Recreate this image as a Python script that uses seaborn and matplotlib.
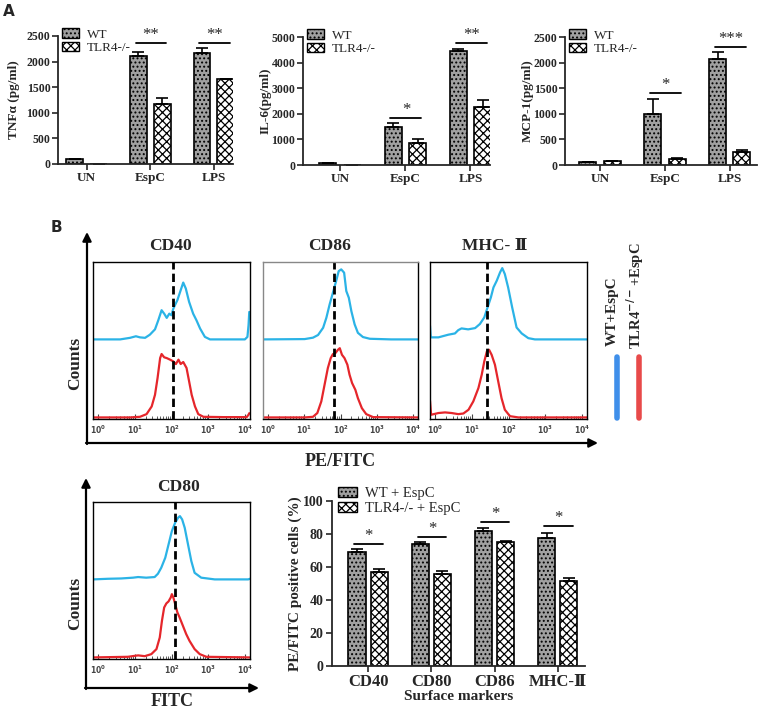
"""
EspC cytokines / surface markers figure, redrawn with seaborn
"""
import numpy as np
import pandas as pd
import matplotlib
matplotlib.use("Agg")
import matplotlib.pyplot as plt
from matplotlib.patches import Patch
import seaborn as sns

# ---------------- panel A data (pg/ml) ----------------
conditions = ["UN", "EspC", "LPS"]
genotypes = ["WT", "TLR4-/-"]
sig_groups = [1, 2]  # EspC, LPS

tnf_wt = [92, 2110, 2170]
tnf_wt_err = [12, 85, 90]
tnf_ko = [0, 1170, 1655]
tnf_ko_err = [0, 125, 12]
tnf_sig_y = [2365, 2370]
tnf_sig = ["**", "**"]

il6_wt = [60, 1490, 4440]
il6_wt_err = [15, 155, 105]
il6_ko = [0, 870, 2270]
il6_ko_err = [0, 145, 260]
il6_sig_y = [1840, 4770]
il6_sig = ["*", "**"]

mcp_wt = [53, 995, 2065]
mcp_wt_err = [10, 295, 140]
mcp_ko = [70, 120, 262]
mcp_ko_err = [10, 15, 40]
mcp_sig_y = [1405, 2305]
mcp_sig = ["*", "***"]

# ---------------- panel B bar data (%) ----------------
markers = ["CD40", "CD80", "CD86", "MHC-\u2161"]
pos_wt = [69, 74, 81.8, 77.6]
pos_wt_err = [2, 1.2, 1.6, 2.8]
pos_ko = [57, 55.8, 75, 51.5]
pos_ko_err = [2, 1.8, 0.8, 1.8]
pos_sig_y = [74, 78, 87, 85]

# ---------------- flow histograms (x = log10 intensity, y = relative count) ----------------
cd40_wt_x = [-0.14, 0.60, 0.87, 1.03, 1.14, 1.28, 1.41, 1.55, 1.64, 1.73, 1.80, 1.87, 1.94, 2.00, 2.05,
             2.16, 2.25, 2.32, 2.39, 2.48, 2.59, 2.68, 2.78, 2.91, 3.05, 3.59, 4.00, 4.07, 4.10, 4.12]
cd40_wt_y = [0, 0, 0.01, 0.02, 0.013, 0.01, 0.03, 0.064, 0.122, 0.186, 0.164, 0.137, 0.164, 0.154, 0.196,
             0.25, 0.313, 0.362, 0.324, 0.239, 0.164, 0.122, 0.069, 0.016, 0, 0, 0, 0.016, 0.09, 0.175]
cd40_ko_x = [-0.14, 0.87, 1.14, 1.32, 1.46, 1.55, 1.62, 1.69, 1.73, 1.80, 1.87, 1.96, 2.05, 2.12, 2.19,
             2.25, 2.32, 2.41, 2.48, 2.55, 2.64, 2.73, 2.87, 3.41, 4.05, 4.10, 4.12]
cd40_ko_y = [0, 0, 0.004, 0.021, 0.07, 0.144, 0.251, 0.378, 0.404, 0.383, 0.378, 0.368, 0.357, 0.34, 0.368,
             0.34, 0.353, 0.315, 0.23, 0.144, 0.07, 0.021, 0.004, 0.002, 0.002, 0.017, 0.027]

cd86_wt_x = [-0.14, 1.01, 1.24, 1.38, 1.52, 1.61, 1.70, 1.79, 1.88, 1.95, 2.02, 2.10, 2.16, 2.23, 2.30,
             2.39, 2.48, 2.62, 2.81, 3.40, 4.14]
cd86_wt_y = [0, 0.002, 0.011, 0.028, 0.074, 0.138, 0.223, 0.297, 0.372, 0.435, 0.446, 0.425, 0.308, 0.265,
             0.18, 0.096, 0.042, 0.015, 0.004, 0, 0]
cd86_ko_x = [-0.14, 1.01, 1.24, 1.36, 1.47, 1.56, 1.65, 1.73, 1.79, 1.86, 1.93, 1.98, 2.04, 2.11, 2.19,
             2.25, 2.32, 2.41, 2.48, 2.59, 2.71, 2.90, 4.14]
cd86_ko_y = [0, 0, 0.004, 0.028, 0.102, 0.208, 0.314, 0.378, 0.403, 0.41, 0.431, 0.441, 0.399, 0.378, 0.336,
             0.272, 0.219, 0.176, 0.123, 0.059, 0.021, 0.002, 0]

mhc_wt_x = [-0.14, -0.12, 0.09, 0.36, 0.54, 0.63, 0.72, 0.90, 1.09, 1.22, 1.34, 1.43, 1.52, 1.59, 1.68,
            1.77, 1.83, 1.90, 1.99, 2.10, 2.22, 2.36, 2.54, 2.72, 4.14]
mhc_wt_y = [0.087, 0.013, 0.013, 0.03, 0.038, 0.059, 0.07, 0.064, 0.072, 0.098, 0.14, 0.204, 0.268, 0.331,
            0.374, 0.427, 0.454, 0.416, 0.331, 0.204, 0.076, 0.038, 0.008, 0, 0]
mhc_ko_x = [-0.14, -0.11, 0.09, 0.27, 0.45, 0.63, 0.77, 0.91, 1.04, 1.18, 1.27, 1.34, 1.41, 1.47, 1.54,
            1.63, 1.72, 1.81, 1.90, 2.04, 2.27, 4.14]
mhc_ko_y = [0.106, 0.017, 0.028, 0.032, 0.028, 0.021, 0.025, 0.049, 0.102, 0.187, 0.272, 0.357, 0.42, 0.431,
            0.399, 0.336, 0.229, 0.123, 0.049, 0.008, 0, 0]

cd80_wt_x = [-0.14, 0.27, 0.63, 0.95, 1.09, 1.31, 1.54, 1.63, 1.72, 1.83, 1.92, 2.01, 2.10, 2.18, 2.23,
             2.29, 2.36, 2.45, 2.54, 2.63, 2.81, 3.18, 4.09, 4.14]
cd80_wt_y = [0, 0.004, 0.006, 0.011, 0.015, 0.011, 0.015, 0.036, 0.074, 0.138, 0.223, 0.308, 0.361, 0.393,
             0.403, 0.382, 0.329, 0.223, 0.117, 0.042, 0.011, 0, 0, 0.004]
cd80_ko_x = [-0.14, 0.81, 1.09, 1.27, 1.45, 1.59, 1.68, 1.74, 1.80, 1.86, 1.92, 1.98, 2.01, 2.05, 2.10,
             2.16, 2.22, 2.31, 2.40, 2.49, 2.63, 2.77, 2.95, 4.14]
cd80_ko_y = [0, 0.004, 0.013, 0.008, 0.021, 0.053, 0.127, 0.234, 0.318, 0.344, 0.357, 0.382, 0.403, 0.382,
             0.34, 0.287, 0.255, 0.202, 0.149, 0.106, 0.053, 0.021, 0.004, 0]

gate = {"CD40": 2.05, "CD86": 1.81, "MHC": 1.42, "CD80": 2.10}

# ---------------- style ----------------
sns.set_style("ticks")
plt.rcParams["font.family"] = ["Liberation Serif", "DejaVu Serif", "DejaVu Sans"]
plt.rcParams["font.weight"] = "bold"
plt.rcParams["axes.labelweight"] = "bold"
plt.rcParams["hatch.linewidth"] = 0.9

WT_FACE, KO_FACE = "#a0a0a0", "white"
WT_HATCH, KO_HATCH = "....", "xxxx"
BLUE, RED = "#2bb3e6", "#e5262b"
W, H = 767, 712

fig = plt.figure(figsize=(W / 100, H / 100), dpi=100)


def px_axes(x0, y0, x1, y1, **kw):
    return fig.add_axes([x0 / W, 1 - y1 / H, (x1 - x0) / W, (y1 - y0) / H], **kw)


# overlay in pixel coordinates for arrows and free texts
ov = px_axes(0, 0, W, H)
ov.set_xlim(0, W)
ov.set_ylim(H, 0)
ov.axis("off")


def legend_patches():
    return [Patch(facecolor=WT_FACE, hatch=WT_HATCH, edgecolor="black"),
            Patch(facecolor=KO_FACE, hatch=KO_HATCH, edgecolor="black")]


def grouped_bars(ax, cats, wt, wt_err, ko, ko_err, labels, width, gap):
    df = pd.DataFrame({"cat": cats * 2,
                       "grp": [labels[0]] * len(cats) + [labels[1]] * len(cats),
                       "val": wt + ko})
    sns.barplot(data=df, x="cat", y="val", hue="grp", ax=ax, width=width, gap=gap,
                palette={labels[0]: WT_FACE, labels[1]: KO_FACE}, saturation=1,
                edgecolor="black", linewidth=1.2, errorbar=None, legend=False)
    for cont, hatch, errs in zip(ax.containers, [WT_HATCH, KO_HATCH], [wt_err, ko_err]):
        for p in cont:
            p.set_hatch(hatch)
        xs = [p.get_x() + p.get_width() / 2 for p in cont]
        hs = [p.get_height() for p in cont]
        ax.errorbar(xs, hs, yerr=[np.zeros(len(errs)), errs], fmt="none", ecolor="black",
                    elinewidth=1.2, capsize=4, capthick=1.2, zorder=1)
    ax.set_xlabel("")
    for s in ["top", "right"]:
        ax.spines[s].set_visible(False)
    for s in ["left", "bottom"]:
        ax.spines[s].set_linewidth(1.3)
    ax.tick_params(width=1.2, length=4, pad=2)


def sig_marks(ax, idx, ys, stars, size=12):
    for i, y, s in zip(idx, ys, stars):
        a, b = ax.containers[0][i], ax.containers[1][i]
        x0 = a.get_x() + a.get_width() / 2
        x1 = b.get_x() + b.get_width() / 2
        ax.plot([x0 - 0.04, x1 + 0.06], [y, y], color="black", lw=1.3, clip_on=False)
        ax.text((x0 + x1) / 2 + 0.01, y, s, ha="center", va="bottom", fontsize=size,
                fontweight="normal", clip_on=False)


# ---------------- panel A ----------------
panelA = [
    ((58, 36, 233, 164), tnf_wt, tnf_wt_err, tnf_ko, tnf_ko_err, tnf_sig_y, tnf_sig,
     "TNF\u03b1 (pg/ml)", 2500, 500, (-0.45, 2.3), -0.215),
    ((303, 37, 490, 165), il6_wt, il6_wt_err, il6_ko, il6_ko_err, il6_sig_y, il6_sig,
     "IL-6(pg/ml)", 5000, 1000, (-0.57, 2.3), -0.17),
    ((565, 37, 757, 165), mcp_wt, mcp_wt_err, mcp_ko, mcp_ko_err, mcp_sig_y, mcp_sig,
     "MCP-1(pg/ml)", 2500, 500, (-0.54, 2.42), -0.165),
]
for box, wt, wte, ko, koe, sy, ss, ylab, ymax, step, xl, ylx in panelA:
    ax = px_axes(*box)
    grouped_bars(ax, conditions, wt, wte, ko, koe, genotypes, 0.75, 0.3)
    ax.set_ylim(0, ymax)
    ax.set_xlim(*xl)
    ax.set_yticks(np.arange(0, ymax + 1, step))
    ax.tick_params(axis="y", labelsize=8.5, pad=1.5)
    ax.tick_params(axis="x", labelsize=9.5)
    ax.set_ylabel(ylab, fontsize=9.5)
    ax.yaxis.set_label_coords(ylx, 0.5)
    sig_marks(ax, sig_groups, sy, ss)
    ax.legend(handles=legend_patches(), labels=genotypes, frameon=False, loc="upper left",
              bbox_to_anchor=(0.02, 1.06),
              prop={"family": "Liberation Serif", "weight": "normal", "size": 9.5},
              handlelength=1.3, handleheight=0.7, labelspacing=0.1, handletextpad=0.6,
              borderaxespad=0, borderpad=0)

ov.text(9, 12, "A", fontsize=11, fontweight="bold", family="DejaVu Sans", ha="center", va="center")
ov.text(56, 227, "B", fontsize=11, fontweight="bold", family="DejaVu Sans", ha="center", va="center")


# ---------------- panel B histograms ----------------
def histo(ax, wx, wy, kx, ky, cut, gray_frame=False):
    sns.lineplot(x=np.array(wx), y=np.array(wy) + 0.507, ax=ax, sort=False, estimator=None,
                 color=BLUE, lw=1.6)
    sns.lineplot(x=np.array(kx), y=np.array(ky) + 0.01, ax=ax, sort=False, estimator=None,
                 color=RED, lw=1.6)
    ax.axvline(cut, color="black", ls=(0, (3, 1.5)), lw=2)
    ax.set_xlim(-0.14, 4.14)
    ax.set_ylim(0, 1)
    ax.set_xticks(range(5))
    ax.set_xticklabels([f"$10^{{{k}}}$" for k in range(5)])
    ax.set_xticks([d + np.log10(m) for d in range(4) for m in range(2, 10)], minor=True)
    ax.tick_params(axis="x", which="major", direction="in", length=3.5, width=0.8,
                   color="#444444", labelsize=5.5, labelcolor="#444444", pad=3)
    ax.tick_params(axis="x", which="minor", direction="in", length=2, width=0.6, color="#444444")
    ax.set_yticks([])
    ax.set_xlabel("")
    ax.set_ylabel("")
    for s in ax.spines.values():
        s.set_visible(True)
        s.set_linewidth(1.0)
        s.set_color("black")
    if gray_frame:
        ax.spines["top"].set_color("#888888")
        ax.spines["left"].set_color("#888888")


histo(px_axes(93, 262, 250, 419), cd40_wt_x, cd40_wt_y, cd40_ko_x, cd40_ko_y, gate["CD40"])
histo(px_axes(263, 262, 418, 419), cd86_wt_x, cd86_wt_y, cd86_ko_x, cd86_ko_y, gate["CD86"], True)
histo(px_axes(430, 262, 587, 419), mhc_wt_x, mhc_wt_y, mhc_ko_x, mhc_ko_y, gate["MHC"])
histo(px_axes(93, 502, 250, 659), cd80_wt_x, cd80_wt_y, cd80_ko_x, cd80_ko_y, gate["CD80"])

for x, y, t in [(170, 246, "CD40"), (330, 246, "CD86"), (495, 246, "MHC- \u2161"), (178, 487, "CD80")]:
    ov.text(x, y, t, fontsize=12.5, fontweight="bold", ha="center", va="center")

arrow = dict(arrowstyle="-|>", color="black", lw=1.6, mutation_scale=13, shrinkA=0, shrinkB=0)
ov.annotate("", xy=(87, 232), xytext=(87, 444), arrowprops=arrow)
ov.annotate("", xy=(598, 443), xytext=(86, 443), arrowprops=arrow)
ov.annotate("", xy=(86, 478), xytext=(86, 689), arrowprops=arrow)
ov.annotate("", xy=(259, 688), xytext=(85, 688), arrowprops=arrow)

ov.text(75, 363, "Counts", fontsize=12.5, fontweight="bold", rotation=90, ha="center", va="center")
ov.text(75, 603, "Counts", fontsize=12.5, fontweight="bold", rotation=90, ha="center", va="center")
ov.text(340, 461, "PE/FITC", fontsize=13, fontweight="bold", ha="center", va="center")
ov.text(172, 701, "FITC", fontsize=13, fontweight="bold", ha="center", va="center")

ov.text(612, 311, "WT+EspC", fontsize=11, fontweight="bold", rotation=90, ha="center", va="center")
ov.text(635, 296, "TLR4$^{-/-}$+EspC", fontsize=10.5, fontweight="bold", rotation=90,
        ha="center", va="center")
ov.plot([617, 617], [357, 418], color="#3f8fea", lw=4, solid_capstyle="round")
ov.plot([639, 639], [357, 418], color="#e84a4a", lw=4, solid_capstyle="round")

# ---------------- panel B bar chart ----------------
axb = px_axes(332, 501, 585, 666)
grouped_bars(axb, markers, pos_wt, pos_wt_err, pos_ko, pos_ko_err,
             ["WT + EspC", "TLR4-/- + EspC"], 0.7, 0.23)
axb.set_ylim(0, 100)
axb.set_xlim(-0.57, 3.43)
axb.set_yticks(range(0, 101, 20))
axb.tick_params(axis="y", labelsize=10)
axb.tick_params(axis="x", labelsize=12)
axb.set_xlabel("Surface markers", fontsize=11, labelpad=0)
axb.set_ylabel("PE/FITC positive cells (%)", fontsize=11)
axb.yaxis.set_label_coords(-0.118, 0.5)
sig_marks(axb, range(4), pos_sig_y, ["*"] * 4)
axb.legend(handles=legend_patches(), labels=["WT + EspC", "TLR4-/- + EspC"], frameon=False,
           loc="upper left", bbox_to_anchor=(0.025, 1.085),
           prop={"family": "Liberation Serif", "weight": "normal", "size": 10.5},
           handlelength=1.3, handleheight=0.7, labelspacing=0.1, handletextpad=0.5,
           borderaxespad=0, borderpad=0)

fig.savefig("out.png", dpi=100)
